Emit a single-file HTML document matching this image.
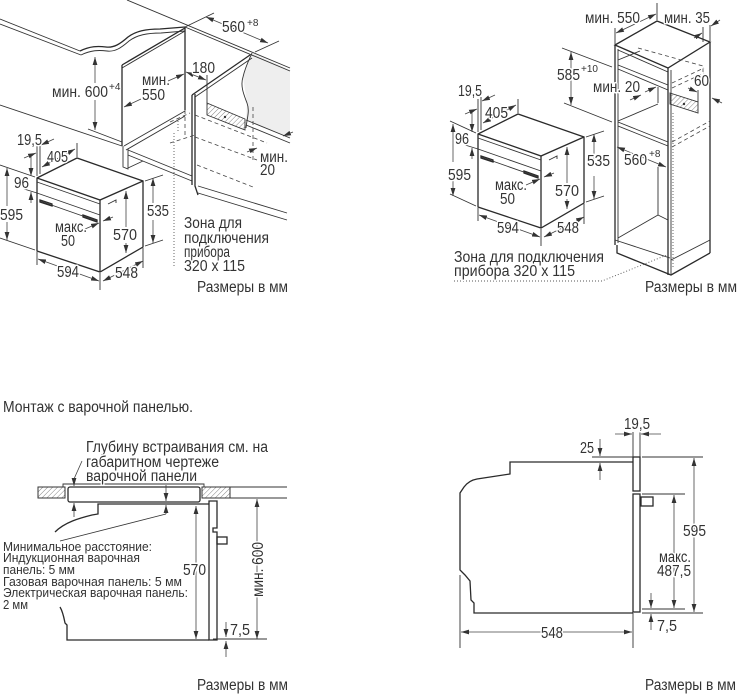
<!DOCTYPE html>
<html><head><meta charset="utf-8"><style>
html,body{margin:0;padding:0;background:#fff;}
svg{display:block}
text{font-family:"Liberation Sans","DejaVu Sans",sans-serif;font-size:15.5px;fill:#333;paint-order:stroke;stroke:#fff;stroke-width:3px;stroke-linejoin:round}
text.s{font-size:12.5px}
text.p{font-size:10px;stroke-width:2px}
.o{fill:none;stroke:#2a2a2a;stroke-width:1.3}
.t{fill:none;stroke:#333;stroke-width:0.9}
.a{fill:none;stroke:#444;stroke-width:0.8;marker-end:url(#ah)}
.aa{fill:none;stroke:#444;stroke-width:0.8;marker-start:url(#as);marker-end:url(#ah)}
.da{fill:none;stroke:#444;stroke-width:0.8;stroke-dasharray:4 3}
.dt{fill:none;stroke:#555;stroke-width:0.9;stroke-dasharray:1 2}
</style></head><body>
<svg width="744" height="697" viewBox="0 0 744 697">
<defs>
<marker id="ah" viewBox="0 0 10 6" refX="10" refY="3" markerWidth="8" markerHeight="5" markerUnits="userSpaceOnUse" orient="auto"><path d="M0,0L10,3L0,6z" fill="#333"/></marker>
<marker id="as" viewBox="0 0 10 6" refX="0" refY="3" markerWidth="8" markerHeight="5" markerUnits="userSpaceOnUse" orient="auto"><path d="M10,0L0,3L10,6z" fill="#333"/></marker>
<pattern id="hatch" width="3.5" height="3.5" patternUnits="userSpaceOnUse" patternTransform="rotate(45)"><line x1="0" y1="0" x2="0" y2="3.5" stroke="#666" stroke-width="0.8"/></pattern>
</defs>

<!-- ================= TOP LEFT ================= -->
<polygon points="252,53 290,70 290,138 246,120 247,103 243,77" fill="#eeeeee"/>
<path class="t" d="M0,19 L80,51"/>
<path class="t" d="M0,24 L81,55"/>
<path class="o" d="M80,51 C90,46 98,46 106,47 C114,48 120,44 128,37 C136,31 146,29 160,29 L185,27"/>
<path class="t" d="M81,55 C91,50 99,50 107,51 C115,52 121,48 129,41 C137,35 147,33 161,33 L185,31"/>
<path class="t" d="M127,0 L290,68"/>
<path class="t" d="M185,27 L290,71"/>
<path class="o" d="M122,65 L185,28 L185,110"/>
<path class="t" d="M122,68 L185,31"/>
<path class="o" d="M122,65 L122,146"/>
<path class="t" d="M124,146 L185,111 M126,150 L185,116"/>
<path class="t" d="M123,146 L123,167 L128,169 L128,149 M128,168 L143,161"/>
<path class="t" d="M0,105 L122,146"/>
<path class="t" d="M128,150 L192,176 M128,155 L192,181"/>
<path class="t" d="M198,186 L287,213 M198,193 L287,220"/>
<path class="o" d="M192,95 L192,185 M195,94 L195,186 L198,195"/>
<path class="o" d="M192,95 L250,55"/>
<path class="t" d="M195,97 L252,58"/>
<path class="t" d="M252,53 C248,62 245,68 243,77 C240,86 244,95 247,103 C250,111 247,118 246,128"/>
<path class="t" d="M246,120 L290,138 M246,125 L290,143"/>
<polygon points="207,103 245,119 245,130 207,115" fill="url(#hatch)" stroke="#333" stroke-width="0.9"/>
<circle cx="225" cy="117" r="1.2" fill="#333"/>
<line class="t" x1="207" y1="75" x2="207" y2="103"/>
<path class="da" d="M185,110 L185,137"/>
<path class="da" d="M170,122 L190,113"/>
<path class="da" d="M195,115 L267,143"/>
<path class="da" d="M170,143 L195,135"/>
<path class="da" d="M195,137 L257,160"/>
<path class="da" d="M253,107 L253,160"/>
<path class="da" d="M197,165 L253,187"/>
<path class="dt" d="M174,133 L174,267"/>
<path class="dt" d="M178,118 L178,133"/>
<path class="t" d="M185,27 L214,13 M255,52 L279,41"/>
<path class="aa" d="M206,17 L268,43"/>
<path class="aa" d="M186,72 L206,80"/>
<path class="a" d="M141,99 L124,107"/>
<path class="a" d="M168,81 L184,74"/>
<path class="a" d="M95,83 L95,57"/>
<path class="a" d="M95,100 L95,130"/>
<path class="t" d="M88,129 L122,142"/>
<path class="a" d="M247,152 L257,148"/>
<path class="a" d="M293,132 L283,136"/>

<g>
<path class="o" d="M37,178 L77,158 L143,181 L143,247 L100,272 L37,251 Z"/>
<path class="o" d="M37,178 L100,200 L143,181"/>
<path class="o" d="M100,200 L100,272"/>
<path class="t" d="M37,182 L100,204"/>
<path class="t" d="M37,193 L100,215"/>
<path class="t" d="M40,201 L97,221"/>
<path class="o" d="M40,200 L52,204 L52,206 L40,202 Z M83,215 L97,220 L97,222 L83,217 Z"/>
<path class="t" d="M108,204 L116,200 L116,203"/>
<path class="t" d="M0,165 L35,177 M0,238 L35,250"/>
<path class="a" d="M7,206 L7,168"/>
<path class="a" d="M7,222 L7,240"/>
<path class="a" d="M31,157 L31,176"/>
<path class="a" d="M31,203 L31,192"/>
<path class="t" d="M24,189 L37,193"/>
<path class="t" d="M37,143 L37,176 M40,141 L40,174"/>
<path class="a" d="M24,158 L36,153"/>
<path class="a" d="M54,139 L41,145"/>
<path class="aa" d="M42,167 L75,149"/>
<path class="t" d="M77,143 L77,157"/>
<path class="t" d="M145,181 L163,175 M145,246 L163,240"/>
<path class="a" d="M153,203 L153,178"/>
<path class="a" d="M153,220 L153,243"/>
<path class="a" d="M126,227 L126,191"/>
<path class="a" d="M126,243 L126,253"/>
<path class="t" d="M37,252 L37,265 M100,273 L100,290 M143,248 L143,268"/>
<path class="aa" d="M38,259 L99,281"/>
<path class="aa" d="M103,281 L143,261"/>
<path class="a" d="M85,229 L99,223"/>
<path class="a" d="M113,217 L103,221"/>
</g>

<text x="222" y="32" textLength="23" lengthAdjust="spacingAndGlyphs">560</text><text class="p" x="247" y="26">+8</text>
<text x="192" y="73" textLength="23" lengthAdjust="spacingAndGlyphs">180</text>
<text x="142" y="85" textLength="28" lengthAdjust="spacingAndGlyphs">мин.</text>
<text x="142" y="100" textLength="23" lengthAdjust="spacingAndGlyphs">550</text>
<text x="52" y="97" textLength="56" lengthAdjust="spacingAndGlyphs">мин. 600</text><text class="p" x="109" y="90">+4</text>
<text x="17" y="145" textLength="25" lengthAdjust="spacingAndGlyphs">19,5</text>
<text x="47" y="162" textLength="21" lengthAdjust="spacingAndGlyphs">405</text>
<text x="14" y="188" textLength="15" lengthAdjust="spacingAndGlyphs">96</text>
<text x="0" y="220" textLength="23" lengthAdjust="spacingAndGlyphs">595</text>
<text x="55" y="232" textLength="32" lengthAdjust="spacingAndGlyphs">макс.</text>
<text x="61" y="246" textLength="14" lengthAdjust="spacingAndGlyphs">50</text>
<text x="113" y="240" textLength="24" lengthAdjust="spacingAndGlyphs">570</text>
<text x="147" y="216" textLength="22" lengthAdjust="spacingAndGlyphs">535</text>
<text x="57" y="277" textLength="22" lengthAdjust="spacingAndGlyphs">594</text>
<text x="115" y="278" textLength="23" lengthAdjust="spacingAndGlyphs">548</text>
<text x="260" y="162" textLength="28" lengthAdjust="spacingAndGlyphs">мин.</text>
<text x="260" y="175" textLength="15" lengthAdjust="spacingAndGlyphs">20</text>
<text x="184" y="228" textLength="58" lengthAdjust="spacingAndGlyphs">Зона для</text>
<text x="184" y="243" textLength="85" lengthAdjust="spacingAndGlyphs">подключения</text>
<text x="184" y="257" textLength="46" lengthAdjust="spacingAndGlyphs">прибора</text>
<text x="184" y="271" textLength="61" lengthAdjust="spacingAndGlyphs">320 x 115</text>
<text x="197" y="292" textLength="91" lengthAdjust="spacingAndGlyphs">Размеры в мм</text>

<!-- ================= TOP RIGHT ================= -->
<g transform="translate(441,-44)">
<path class="o" d="M37,178 L77,158 L143,181 L143,247 L100,272 L37,251 Z"/>
<path class="o" d="M37,178 L100,200 L143,181"/>
<path class="o" d="M100,200 L100,272"/>
<path class="t" d="M37,182 L100,204"/>
<path class="t" d="M37,193 L100,215"/>
<path class="t" d="M40,201 L97,221"/>
<path class="o" d="M40,200 L52,204 L52,206 L40,202 Z M83,215 L97,220 L97,222 L83,217 Z"/>
<path class="t" d="M108,204 L116,200 L116,203"/>
<path class="t" d="M9,165 L35,177 M9,238 L35,250"/>
<path class="a" d="M12,206 L12,168"/>
<path class="a" d="M12,222 L12,240"/>
<path class="a" d="M31,157 L31,176"/>
<path class="a" d="M31,203 L31,192"/>
<path class="t" d="M24,189 L37,193"/>
<path class="t" d="M37,143 L37,176 M40,141 L40,174"/>
<path class="a" d="M24,158 L36,153"/>
<path class="a" d="M54,139 L41,145"/>
<path class="aa" d="M42,167 L75,149"/>
<path class="t" d="M77,143 L77,157"/>
<path class="t" d="M145,181 L163,175 M145,246 L163,240"/>
<path class="a" d="M153,203 L153,178"/>
<path class="a" d="M153,220 L153,243"/>
<path class="a" d="M126,227 L126,191"/>
<path class="a" d="M126,243 L126,253"/>
<path class="t" d="M37,252 L37,265 M100,273 L100,290 M143,248 L143,268"/>
<path class="aa" d="M38,259 L99,281"/>
<path class="aa" d="M103,281 L143,261"/>
<path class="a" d="M85,229 L99,223"/>
<path class="a" d="M113,217 L103,221"/>
</g>

<path class="o" d="M615,45 L657,21 L710,42 L668,68 Z"/>
<path class="t" d="M618,50 L668,72"/>
<path class="o" d="M615,45 L615,245"/>
<path class="t" d="M618,49 L618,243"/>
<path class="o" d="M668,68 L668,275"/>
<path class="t" d="M671,70 L671,274"/>
<path class="o" d="M710,42 L710,253"/>
<path class="t" d="M615,240 L670,258 M710,240 L671,260"/>
<path class="o" d="M617,245 L617,253 L671,275 L710,253"/>
<path class="t" d="M618,65 L668,85 M618,69 L668,90"/>
<path class="t" d="M618,60 L640,51"/>
<path class="t" d="M618,122 L668,142 M618,126 L668,146"/>
<path class="t" d="M618,121 L658,104 M658,87 L658,103"/>
<path class="t" d="M658,167 L658,215 L618,238 M658,215 L668,220"/>
<path class="da" d="M638,48 L703,66 L703,72"/>
<path class="da" d="M672,83 L704,68 M672,88 L704,73"/>
<path class="da" d="M672,142 L710,121 M672,147 L710,126"/>
<path class="dt" d="M673,113 L673,267"/>
<polygon points="670,93 698,102 698,113 670,104" fill="url(#hatch)" stroke="#333" stroke-width="0.9"/>
<circle cx="684" cy="104" r="1.2" fill="#333"/>
<path class="t" d="M615,28 L615,44 M657,3 L657,20"/>
<path class="aa" d="M616,33 L656,14"/>
<path class="t" d="M703,27 L703,42 M710,25 L710,41"/>
<path class="a" d="M694,38 L702,33"/>
<path class="a" d="M720,20 L711,26"/>
<path class="t" d="M562,48 L612,67 M564,103 L612,122"/>
<path class="aa" d="M571,52 L571,105"/>
<path class="a" d="M645,92 L656,87"/>
<path class="a" d="M630,100 L641,95"/>
<path class="t" d="M698,90 L698,102"/>
<path class="a" d="M688,88 L697,92"/>
<path class="a" d="M722,103 L712,98"/>
<path class="aa" d="M617,147 L666,167"/>
<path class="dt" d="M454,281 L602,281 L667,255"/>

<text x="585" y="23" textLength="55" lengthAdjust="spacingAndGlyphs">мин. 550</text>
<text x="664" y="23" textLength="46" lengthAdjust="spacingAndGlyphs">мин. 35</text>
<text x="557" y="80" textLength="23" lengthAdjust="spacingAndGlyphs">585</text><text class="p" x="581" y="72">+10</text>
<text x="593" y="92" textLength="47" lengthAdjust="spacingAndGlyphs">мин. 20</text>
<text x="694" y="86" textLength="15" lengthAdjust="spacingAndGlyphs">60</text>
<text x="458" y="96" textLength="24" lengthAdjust="spacingAndGlyphs">19,5</text>
<text x="485" y="118" textLength="23" lengthAdjust="spacingAndGlyphs">405</text>
<text x="455" y="144" textLength="14" lengthAdjust="spacingAndGlyphs">96</text>
<text x="448" y="180" textLength="23" lengthAdjust="spacingAndGlyphs">595</text>
<text x="587" y="166" textLength="23" lengthAdjust="spacingAndGlyphs">535</text>
<text x="624" y="165" textLength="23" lengthAdjust="spacingAndGlyphs">560</text><text class="p" x="649" y="157">+8</text>
<text x="495" y="190" textLength="32" lengthAdjust="spacingAndGlyphs">макс.</text>
<text x="500" y="204" textLength="15" lengthAdjust="spacingAndGlyphs">50</text>
<text x="555" y="196" textLength="24" lengthAdjust="spacingAndGlyphs">570</text>
<text x="497" y="233" textLength="22" lengthAdjust="spacingAndGlyphs">594</text>
<text x="557" y="233" textLength="22" lengthAdjust="spacingAndGlyphs">548</text>
<text x="454" y="262" textLength="150" lengthAdjust="spacingAndGlyphs">Зона для подключения</text>
<text x="454" y="276" textLength="121" lengthAdjust="spacingAndGlyphs">прибора 320 x 115</text>
<text x="645" y="292" textLength="92" lengthAdjust="spacingAndGlyphs">Размеры в мм</text>

<!-- ================= BOTTOM LEFT ================= -->
<text x="3" y="412" textLength="190" lengthAdjust="spacingAndGlyphs">Монтаж с варочной панелью.</text>
<rect x="38" y="487" width="27" height="11" fill="url(#hatch)" stroke="#333" stroke-width="1"/>
<rect x="202" y="487" width="28" height="11" fill="url(#hatch)" stroke="#333" stroke-width="1"/>
<path class="t" d="M230,487 L287,487 M230,498 L287,498"/>
<path class="t" d="M63,487 L63,484 L204,484 L204,487"/>
<rect class="o" x="68" y="487" width="132" height="15" rx="2"/>
<path class="o" d="M55,532 C65,522 80,518 92,515 L98,514 L98,504 L209,504"/>
<path class="o" d="M60,607 C63,612 64,618 65,623 L67,625 L67,640 L209,640"/>
<path class="o" d="M209,501 L217,501 L217,528 L213,528 L213,532 L217,532 L217,640 L209,640 Z"/>
<rect class="o" x="217" y="537" width="10" height="7"/>
<path class="a" d="M82,461 L74,479 L74,486"/>
<path class="a" d="M74,517 L74,503"/>
<path class="a" d="M166,485 L166,501"/>
<path class="a" d="M166,514 L166,505"/>
<path class="t" d="M166,514 L60,541"/>
<path class="aa" d="M196,506 L196,639"/>
<path class="aa" d="M257,499 L257,639"/>
<path class="t" d="M213,639 L267,639"/>
<path class="a" d="M226,622 L226,637"/>
<path class="a" d="M226,657 L226,641"/>

<text x="86" y="452" textLength="182" lengthAdjust="spacingAndGlyphs">Глубину встраивания см. на</text>
<text x="86" y="467" textLength="133" lengthAdjust="spacingAndGlyphs">габаритном чертеже</text>
<text x="86" y="481" textLength="111" lengthAdjust="spacingAndGlyphs">варочной панели</text>
<text class="s" x="3" y="551" textLength="149" lengthAdjust="spacingAndGlyphs">Минимальное расстояние:</text>
<text class="s" x="3" y="562" textLength="137" lengthAdjust="spacingAndGlyphs">Индукционная варочная</text>
<text class="s" x="3" y="574" textLength="72" lengthAdjust="spacingAndGlyphs">панель: 5 мм</text>
<text class="s" x="3" y="586" textLength="179" lengthAdjust="spacingAndGlyphs">Газовая варочная панель: 5 мм</text>
<text class="s" x="3" y="597" textLength="185" lengthAdjust="spacingAndGlyphs">Электрическая варочная панель:</text>
<text class="s" x="3" y="609" textLength="25" lengthAdjust="spacingAndGlyphs">2 мм</text>
<text x="183" y="575" textLength="23" lengthAdjust="spacingAndGlyphs">570</text>
<text transform="translate(263,570) rotate(-90)" x="-27" y="0" textLength="55" lengthAdjust="spacingAndGlyphs">мин. 600</text>
<text x="230" y="635" textLength="20" lengthAdjust="spacingAndGlyphs">7,5</text>
<text x="197" y="690" textLength="91" lengthAdjust="spacingAndGlyphs">Размеры в мм</text>

<!-- ================= BOTTOM RIGHT ================= -->
<path class="o" d="M633,462 L510,462 L510,474 L477,479 C471,480 467,483 464,487 L460,493 L460,570 L465,575 L470,581 L471,600 L474,603 L474,613 L633,613"/>
<rect class="o" x="633" y="457" width="7" height="34"/>
<rect class="o" x="633" y="494" width="7" height="118"/>
<rect class="o" x="641" y="497" width="12" height="9"/>
<path class="t" d="M633,432 L633,457 M640,432 L640,457"/>
<path class="a" d="M615,434 L632,434"/>
<path class="a" d="M661,434 L641,434"/>
<path class="t" d="M592,457 L633,457"/>
<path class="a" d="M600,439 L600,456"/>
<path class="a" d="M600,480 L600,463"/>
<path class="t" d="M642,457 L703,457 M642,613 L703,613"/>
<path class="aa" d="M694,458 L694,612"/>
<path class="t" d="M642,494 L685,494 M642,609 L685,609"/>
<path class="aa" d="M674,495 L674,608"/>
<path class="a" d="M651,593 L651,608"/>
<path class="a" d="M651,630 L651,614"/>
<path class="t" d="M460,575 L460,648 M633,613 L633,648"/>
<path class="aa" d="M461,632 L632,632"/>

<text x="624" y="429" textLength="26" lengthAdjust="spacingAndGlyphs">19,5</text>
<text x="580" y="453" textLength="14" lengthAdjust="spacingAndGlyphs">25</text>
<text x="683" y="536" textLength="23" lengthAdjust="spacingAndGlyphs">595</text>
<text x="659" y="562" textLength="32" lengthAdjust="spacingAndGlyphs">макс.</text>
<text x="657" y="576" textLength="34" lengthAdjust="spacingAndGlyphs">487,5</text>
<text x="541" y="638" textLength="22" lengthAdjust="spacingAndGlyphs">548</text>
<text x="657" y="631" textLength="20" lengthAdjust="spacingAndGlyphs">7,5</text>
<text x="645" y="690" textLength="91" lengthAdjust="spacingAndGlyphs">Размеры в мм</text>
</svg>
</body></html>
